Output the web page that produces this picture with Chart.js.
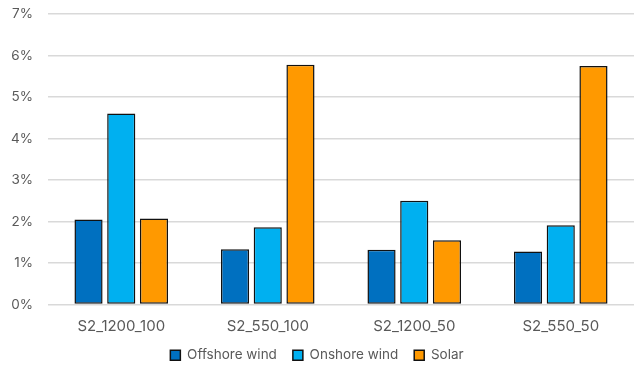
<!DOCTYPE html>
<html>
<head>
<meta charset="utf-8">
<script src="https://cdn.jsdelivr.net/npm/chart.js@4/dist/chart.umd.min.js"></script>
<style>
  html, body { margin: 0; padding: 0; background: #fff; }
  #wrap { width: 635px; height: 369px; }
</style>
</head>
<body>
<div id="wrap"><canvas id="c" width="635" height="369"></canvas></div>
<script>
// Scenarios on the x axis
const categories = ['S2_1200_100', 'S2_550_100', 'S2_1200_50', 'S2_550_50'];

// Share per technology (%)
const offshoreWind = [2.05, 1.33, 1.32, 1.28];
const onshoreWind  = [4.60, 1.86, 2.50, 1.91];
const solar        = [2.07, 5.78, 1.55, 5.75];

// Y axis ticks (%)
const yTicks = [0, 1, 2, 3, 4, 5, 6, 7];

const seriesNames = ['Offshore wind', 'Onshore wind', 'Solar'];
const seriesColors = ['#0070C0', '#00B0F0', '#FF9900'];
const seriesValues = [offshoreWind, onshoreWind, solar];

const textColor = '#595959';
const family = 'Inter, "Open Sans", sans-serif';
const xFont = { family, size: 15 };
const yFont = { family, size: 13.5 };
const legendFont = { family, size: 13.5 };

new Chart(document.getElementById('c'), {
  type: 'bar',
  data: {
    labels: categories,
    datasets: seriesNames.map((name, i) => ({
      label: name,
      data: seriesValues[i],
      backgroundColor: seriesColors[i],
      borderColor: '#111111',
      borderWidth: 1.5,
      borderSkipped: false,
      categoryPercentage: 0.67,
      barPercentage: 0.86
    }))
  },
  options: {
    responsive: false,
    animation: false,
    layout: { padding: { top: 14, right: 1, left: 0, bottom: -3 } },
    plugins: {
      legend: {
        position: 'bottom',
        labels: {
          color: textColor,
          font: legendFont,
          boxWidth: 10,
          boxHeight: 10,
          padding: 16
        }
      },
      tooltip: { enabled: false }
    },
    scales: {
      x: {
        afterFit: (scale) => { scale.height -= 16; },
        grid: { display: false, drawTicks: false },
        border: { display: false },
        ticks: { color: textColor, font: xFont, padding: 13 }
      },
      y: {
        min: 0,
        max: 7,
        afterBuildTicks: (scale) => { scale.ticks = yTicks.map(v => ({ value: v })); },
        afterFit: (scale) => { scale.width = 48; },
        // the tick marks only reserve room between labels and plot
        grid: { color: '#D9D9D9', lineWidth: 1.5, drawTicks: true, tickLength: 15, tickColor: 'rgba(0,0,0,0)' },
        border: { display: false },
        ticks: {
          color: textColor,
          font: yFont,
          padding: 0,
          callback: (v) => v + '%'
        }
      }
    }
  }
});
</script>
</body>
</html>
